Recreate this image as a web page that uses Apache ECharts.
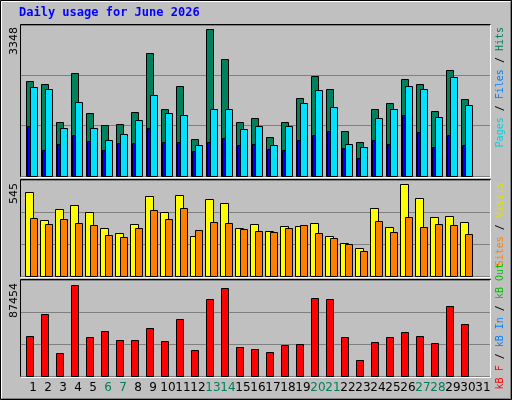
<!DOCTYPE html>
<html><head><meta charset="utf-8">
<script src="https://cdn.jsdelivr.net/npm/echarts@6/dist/echarts.min.js"></script>
<style>html,body{margin:0;padding:0;background:#c0c0c0}#c{width:512px;height:400px}</style>
</head><body><div id="c"></div>
<script>
const days = ['1','2','3','4','5','6','7','8','9','10','11','12','13','14','15','16','17','18','19','20','21','22','23','24','25','26','27','28','29','30','31'];
const weekend = ['6','7','13','14','20','21','27','28'];
const hits = [2161,2093,1225,2344,1431,1157,1179,1453,2800,1522,2047,837,3348,2663,1225,1316,883,1225,1773,2275,1978,1020,769,1522,1659,2207,2093,1476,2412,1750];
const files = [2024,1978,1088,1682,1088,814,951,1271,1841,1431,1385,700,1522,1522,1065,1134,700,1134,1659,1956,1567,723,654,1316,1522,2047,1978,1339,2252,1613];
const pages = [1134,586,723,928,791,586,746,746,1088,769,769,563,769,860,700,723,609,586,814,928,1020,632,403,814,723,1385,997,654,928,700];
const visits = [498,332,397,421,379,284,255,308,474,379,480,237,456,432,284,308,267,296,296,314,237,195,166,403,290,545,462,350,355,320];
const sites = [344,308,338,314,302,243,231,284,391,338,403,272,320,314,278,267,261,284,302,255,225,190,148,326,261,350,290,308,302,249];
const kbytes = [38620,59690,22340,87454,37660,43410,34790,34790,46280,33830,54900,25210,74050,84580,28090,26170,23300,30000,30960,75010,74050,37660,15640,32880,37660,42450,38620,31920,67350,50110];
const maxLabels = ['3348','545','87454'];

const chart = echarts.init(document.getElementById('c'), null, {renderer:'canvas'});
function bars(data, off, w, color, ax){
  return {type:'custom', xAxisIndex:ax, yAxisIndex:ax, silent:true,
    data:data.map((v,i)=>[i+1,v]),
    renderItem:(p,api)=>{
      const t=api.coord([api.value(0),api.value(1)]);
      const b=api.coord([api.value(0),0]);
      const x=Math.round(t[0]+off-w/2)+0.5;
      return {type:'rect',shape:{x:x,y:Math.round(t[1])+0.5,width:w,height:Math.round(b[1])-Math.round(t[1])},
        style:{fill:color,stroke:'#000',lineWidth:1}};
    }};
}
const panels=[{top:25,h:151,max:3348*151/147},{top:180,h:96,max:545*96/92},{top:280,h:96,max:87454*96/91.4}];
const grids=panels.map(p=>({left:20,width:470,top:p.top,height:p.h}));
grids.push({left:25.5,width:465,top:376,height:1});
const xAxes=panels.map((p,i)=>({type:'value',gridIndex:i,min:1-13/15,max:1+457/15,show:false}));
xAxes.push({type:'category',gridIndex:3,data:days,axisLine:{show:false},axisTick:{show:false},
  axisLabel:{interval:0,margin:5,fontFamily:'DejaVu Sans',fontSize:12,
    color:(v)=>weekend.includes(v)?'#00805c':'#000'}});
const yAxes=panels.map((p,i)=>({type:'value',gridIndex:i,min:0,max:p.max,interval:p.max/3,
  axisLabel:{show:false},axisLine:{show:false},axisTick:{show:false},splitLine:{show:true,lineStyle:{color:'#808080',width:1}}}));
yAxes.push({type:'value',gridIndex:3,show:false});

const g=[];
g.push({type:'rect',shape:{x:0.5,y:0.5,width:511,height:399},style:{fill:'none',stroke:'#000'},z:100});
g.push({type:'polyline',shape:{points:[[1.5,398],[1.5,1.5],[510,1.5]]},style:{stroke:'#fff',fill:'none'},z:100});
g.push({type:'polyline',shape:{points:[[2,398.5],[510.5,398.5],[510.5,2]]},style:{stroke:'#808080',fill:'none'},z:100});
panels.forEach(p=>{
  g.push({type:'polyline',shape:{points:[[20.5,p.top+p.h+0.5],[20.5,p.top-0.5],[490.5,p.top-0.5]]},style:{stroke:'#000',fill:'none'},z:100});
  g.push({type:'polyline',shape:{points:[[21,p.top+p.h+1.5],[490.5,p.top+p.h+1.5],[490.5,p.top]]},style:{stroke:'#fff',fill:'none'},z:100});
});
g.push({type:'text',left:19,top:7,style:{text:'Daily usage for June 2026',fill:'#0000ff',font:'bold 12px "DejaVu Sans Mono"'}});
const ly=[28,184,284];
maxLabels.forEach((t,i)=>{
  g.push({type:'text',x:14,y:ly[i]-1,rotation:Math.PI/2,style:{text:t,fill:'#000',font:'11px "DejaVu Sans"',align:'right',verticalAlign:'middle'}});
});
function leg(y,parts){
  const f='10px "DejaVu Sans Mono"';
  g.push({type:'text',x:500,y:y,rotation:Math.PI/2,style:{text:parts.map(p=>'{'+p[1]+'|'+p[0]+'}').join(''),align:'right',verticalAlign:'middle',
    rich:{a:{fill:'#00d0e0',font:f},b:{fill:'#0080ff',font:f},c:{fill:'#00805c',font:f},
          k:{fill:'#000',font:f},o:{fill:'#ff8000',font:f},y:{fill:'#e0e000',font:f},
          r:{fill:'#ff0000',font:f},gn:{fill:'#00c000',font:f}}}});
}
leg(27,[['Pages','a'],[' / ','k'],['Files','b'],[' / ','k'],['Hits','c']]);
leg(182,[['Sites','o'],[' / ','k'],['Visits','y']]);
leg(263,[['kB F','r'],[' / ','k'],['kB In','b'],[' / ','k'],['kB Out','gn']]);

chart.setOption({animation:false,backgroundColor:'#c0c0c0',grid:grids,xAxis:xAxes,yAxis:yAxes,graphic:g,
  series:[bars(hits,-4,7,'#00805c',0),bars(files,0,7,'#00e0ff',0),bars(pages,-5,3,'#0000ff',0),
    bars(visits,-3.7,8,'#ffff00',1),bars(sites,0,7,'#ff8000',1),bars(kbytes,-4,7,'#ff0000',2)]});
</script></body></html>
